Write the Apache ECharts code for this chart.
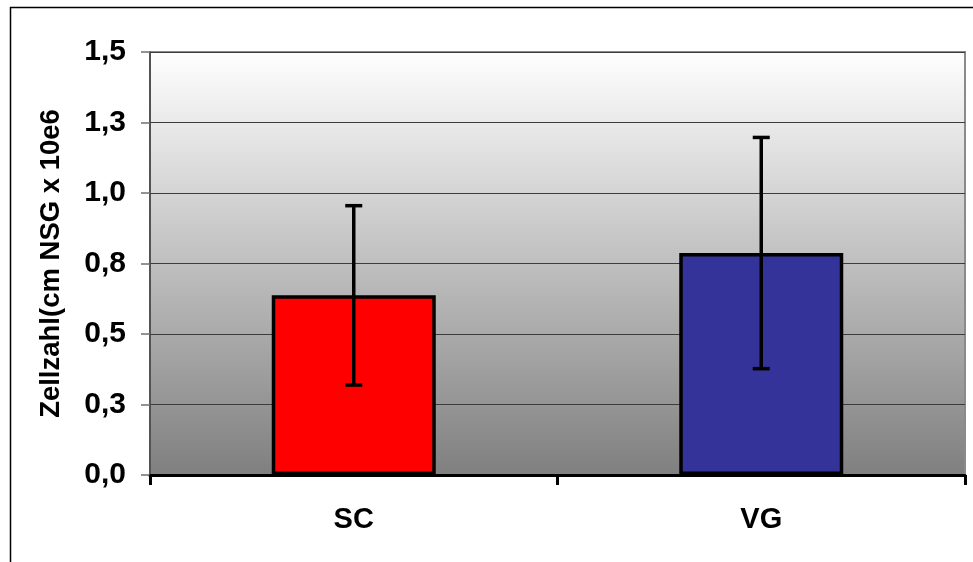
<!DOCTYPE html>
<html>
<head>
<meta charset="utf-8">
<script src="https://cdn.jsdelivr.net/npm/echarts@6/dist/echarts.min.js"></script>
<style>
html,body{margin:0;padding:0;background:#fff;}
#chart{width:973px;height:562px;}
</style>
</head>
<body>
<div id="chart"></div>
<script>
const categories = ['SC', 'VG'];
const means = [0.637, 0.787];
const errors = [0.318, 0.41];
const barColors = ['#FF0000', '#333399'];
const yTickLabels = ['0,0', '0,3', '0,5', '0,8', '1,0', '1,3', '1,5'];
const yAxisTitle = 'Zellzahl(cm NSG x 10e6';

const chart = echarts.init(document.getElementById('chart'), null, {renderer: 'canvas'});
const FONT = 'Liberation Sans, Arial, sans-serif';

const option = {
  animation: false,
  backgroundColor: '#ffffff',
  graphic: [{
    type: 'rect',
    shape: {x: 10.5, y: 7.5, width: 975, height: 570},
    style: {fill: 'none', stroke: '#000', lineWidth: 1.5},
    silent: true, z: -10
  }],
  grid: {
    left: 150, right: 8, top: 52, bottom: 87,
    show: true,
    backgroundColor: new echarts.graphic.LinearGradient(0, 0, 0, 1, [
      {offset: 0, color: '#ffffff'},
      {offset: 1, color: '#7f7f7f'}
    ]),
    borderColor: '#8a8a8a',
    borderWidth: 2
  },
  xAxis: {
    type: 'category',
    data: categories,
    axisLine: {show: true, onZero: false, lineStyle: {color: '#000', width: 3}},
    axisTick: {show: true, alignWithLabel: false, length: 10, lineStyle: {color: '#000', width: 3}},
    axisLabel: {color: '#000', fontFamily: FONT, fontWeight: 'bold', fontSize: 29, margin: 30},
    splitLine: {show: false}
  },
  yAxis: {
    type: 'value',
    min: 0, max: 1.5, interval: 0.25,
    name: yAxisTitle,
    nameLocation: 'middle',
    nameGap: 85,
    nameRotate: 90,
    nameTextStyle: {color: '#000', fontFamily: FONT, fontWeight: 'bold', fontSize: 27.5},
    axisLine: {show: true, lineStyle: {color: '#404040', width: 1.5}},
    axisTick: {show: true, length: 9, lineStyle: {color: '#707070', width: 1.5}},
    axisLabel: {
      color: '#000', fontFamily: FONT, fontWeight: 'bold', fontSize: 30, margin: 24,
      formatter: function (v) { return yTickLabels[Math.round(v / 0.25)]; }
    },
    splitLine: {show: true, lineStyle: {color: '#3c3c3c', width: 1.2}}
  },
  series: [{
    type: 'bar',
    data: means.map(function (v, i) {
      return {value: v, itemStyle: {color: barColors[i]}};
    }),
    barWidth: 164,
    itemStyle: {borderColor: '#000', borderWidth: 3.5},
    z: 2
  }, {
    type: 'custom',
    data: means.map(function (v, i) { return [i, v - errors[i], v + errors[i]]; }),
    renderItem: function (params, api) {
      const lo = api.coord([api.value(0), api.value(1)]);
      const hi = api.coord([api.value(0), api.value(2)]);
      const half = 8.5;
      const st = {stroke: '#000', lineWidth: 3.5};
      return {
        type: 'group',
        children: [
          {type: 'line', shape: {x1: hi[0], y1: hi[1], x2: lo[0], y2: lo[1]}, style: st},
          {type: 'line', shape: {x1: hi[0] - half, y1: hi[1], x2: hi[0] + half, y2: hi[1]}, style: st},
          {type: 'line', shape: {x1: lo[0] - half, y1: lo[1], x2: lo[0] + half, y2: lo[1]}, style: st}
        ]
      };
    },
    z: 5
  }]
};
chart.setOption(option);
</script>
</body>
</html>
